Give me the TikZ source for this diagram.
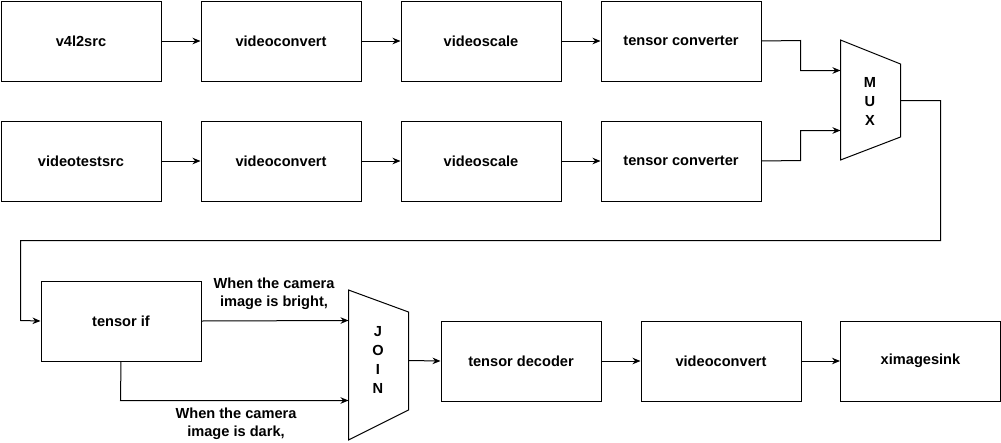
\documentclass[tikz,border=0pt]{standalone}
\usepackage{fontspec}
\setmainfont{Liberation Sans}
\usetikzlibrary{arrows.meta}
\begin{document}
\begin{tikzpicture}[x=1pt,y=-1pt,
  box/.style={draw,line width=1pt,minimum width=160pt,minimum height=80pt,inner sep=0pt,font=\bfseries\fontsize{14.6}{17}\selectfont,anchor=north west},
  conn/.style={line width=1pt,-{Stealth[length=8pt,width=6.5pt]}},
  lbl/.style={font=\bfseries\fontsize{14.6}{18}\selectfont,align=center},
  shp/.style={draw,line width=1pt}]
\useasboundingbox (0,0) rectangle (1001,442);
% row 1
\node[box] (a1) at (0.5,0.5) {v4l2src};
\node[box] (b1) at (200.5,0.5) {videoconvert};
\node[box] (c1) at (400.5,0.5) {videoscale};
\node[box] (d1) at (600.5,0.5) {tensor converter};
% row 2
\node[box] (a2) at (0.5,120.5) {videotestsrc};
\node[box] (b2) at (200.5,120.5) {videoconvert};
\node[box] (c2) at (400.5,120.5) {videoscale};
\node[box] (d2) at (600.5,120.5) {tensor converter};
% row 3
\node[box] (tif) at (40.5,280.5) {tensor if};
\node[box] (dec) at (440.5,320.5) {tensor decoder};
\node[box] (vc3) at (640.5,320.5) {videoconvert};
\node[box] (sink) at (840,320.5) {ximagesink};
% MUX
\draw[shp] (840.5,40) -- (900.5,64) -- (900.5,137) -- (840.5,160) -- cycle;
\node[lbl,inner sep=0pt] (mux) at (870,101) {M\\[1pt]U\\[1pt]X};
\coordinate (muxin1) at (840.5,70.5);
\coordinate (muxin2) at (840.5,130.5);
\coordinate (muxout) at (900.5,100.5);
% JOIN
\draw[shp] (348.5,290) -- (408.5,312) -- (408.5,410) -- (348.5,440) -- cycle;
\node[lbl,inner sep=0pt] (join) at (378,360) {J\\[1pt]O\\[1pt]I\\[1pt]N};
\coordinate (joinin1) at (348.5,320.5);
\coordinate (joinin2) at (348.5,400.5);
\coordinate (joinout) at (408.5,360.5);
% connectors
\draw[conn] (a1) -- (b1);
\draw[conn] (b1) -- (c1);
\draw[conn] (c1) -- (d1);
\draw[conn] (a2) -- (b2);
\draw[conn] (b2) -- (c2);
\draw[conn] (c2) -- (d2);
\draw[conn] (d1.east) -- (800.5,40.5) -- (800.5,70.5) -- (muxin1);
\draw[conn] (d2.east) -- (800.5,160.5) -- (800.5,130.5) -- (muxin2);
\draw[conn] (muxout) -- (940.5,100.5) -- (940.5,240.5) -- (20.5,240.5) -- (20.5,320.5) -- (tif.west);
\draw[conn] (tif.east) -- (joinin1);
\draw[conn] (tif.south) -- (120.5,400.5) -- (joinin2);
\draw[conn] (joinout) -- (dec.west);
\draw[conn] (dec) -- (vc3);
\draw[conn] (vc3) -- (sink);
\node[lbl] (lb1) at (274,294) {When the camera\\image is bright,};
\node[lbl] (lb2) at (236,424) {When the camera\\image is dark,};
\end{tikzpicture}
\end{document}
